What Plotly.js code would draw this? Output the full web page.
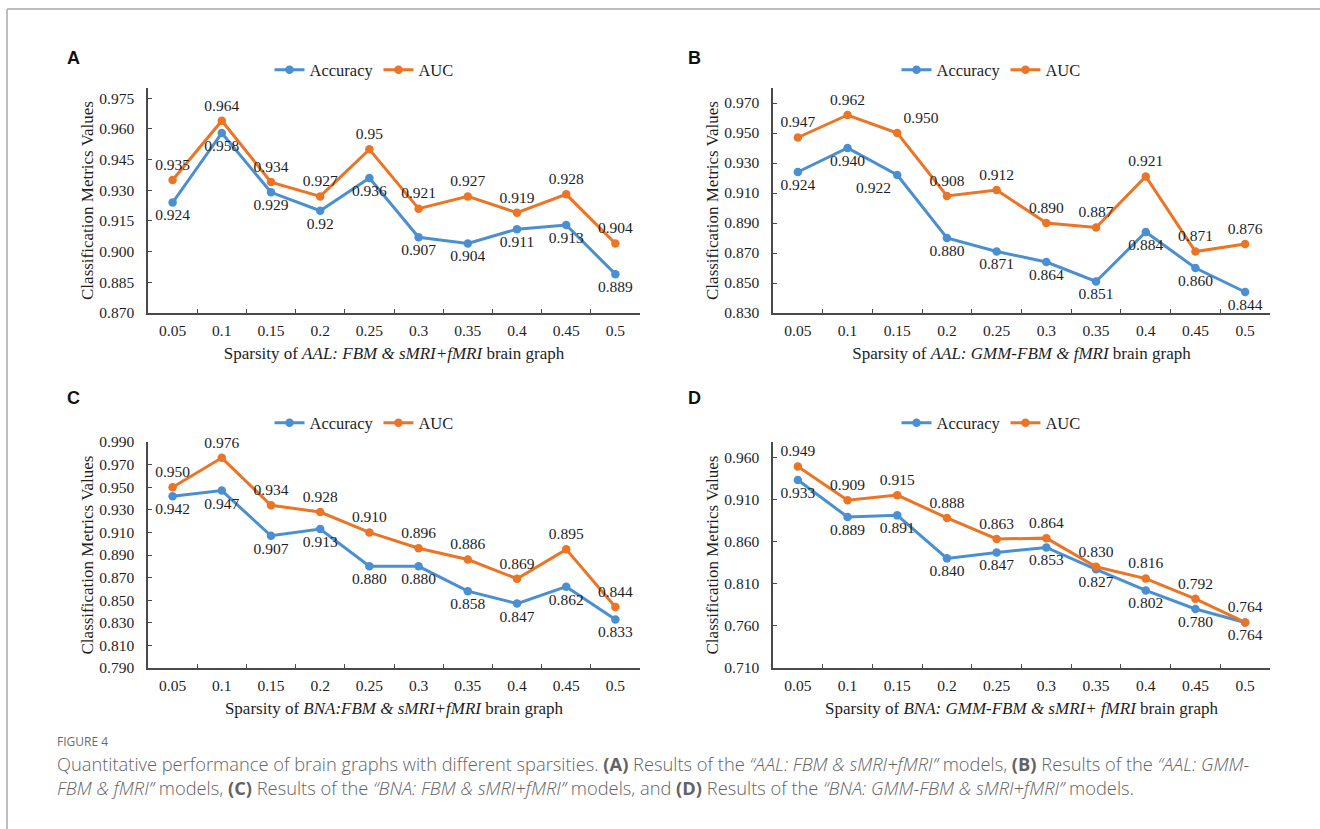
<!DOCTYPE html>
<html>
<head>
<meta charset="utf-8">
<script src="https://cdn.plot.ly/plotly-3.0.1.min.js"></script>
<style>
  html, body { margin: 0; padding: 0; background: #ffffff; }
  #chart { width: 1320px; height: 829px; }
</style>
</head>
<body>
<div id="chart"></div>
<script>
// ---------------- data ----------------
const sparsity = ['0.05', '0.1', '0.15', '0.2', '0.25', '0.3', '0.35', '0.4', '0.45', '0.5'];

const accuracyA = [0.924, 0.958, 0.929, 0.92, 0.936, 0.907, 0.904, 0.911, 0.913, 0.889];
const aucA      = [0.935, 0.964, 0.934, 0.927, 0.95, 0.921, 0.927, 0.919, 0.928, 0.904];

const accuracyB = [0.924, 0.940, 0.922, 0.880, 0.871, 0.864, 0.851, 0.884, 0.860, 0.844];
const aucB      = [0.947, 0.962, 0.950, 0.908, 0.912, 0.890, 0.887, 0.921, 0.871, 0.876];

const accuracyC = [0.942, 0.947, 0.907, 0.913, 0.880, 0.880, 0.858, 0.847, 0.862, 0.833];
const aucC      = [0.950, 0.976, 0.934, 0.928, 0.910, 0.896, 0.886, 0.869, 0.895, 0.844];

const accuracyD = [0.933, 0.889, 0.891, 0.840, 0.847, 0.853, 0.827, 0.802, 0.780, 0.764];
const aucD      = [0.949, 0.909, 0.915, 0.888, 0.863, 0.864, 0.830, 0.816, 0.792, 0.764];

const seriesNames = ['Accuracy', 'AUC'];
const panelLetters = ['A', 'B', 'C', 'D'];
const xTitles = [
  'Sparsity of <i>AAL: FBM &amp; sMRI+fMRI</i> brain graph',
  'Sparsity of <i>AAL: GMM-FBM &amp; fMRI</i> brain graph',
  'Sparsity of <i>BNA:FBM &amp; sMRI+fMRI</i> brain graph',
  'Sparsity of <i>BNA: GMM-FBM &amp; sMRI+ fMRI</i> brain graph'
];
const yTitle = 'Classification Metrics Values';
const captionHead = 'FIGURE 4';
const captionLine1 = 'Quantitative performance of brain graphs with different sparsities. <b>(A)</b> Results of the <i>\u201cAAL: FBM &amp; sMRI+fMRI\u201d</i> models, <b>(B)</b> Results of the <i>\u201cAAL: GMM-</i>';
const captionLine2 = '<i>FBM &amp; fMRI\u201d</i> models, <b>(C)</b> Results of the <i>\u201cBNA: FBM &amp; sMRI+fMRI\u201d</i> models, and <b>(D)</b> Results of the <i>\u201cBNA: GMM-FBM &amp; sMRI+fMRI\u201d</i> models.';

// ---------------- styling ----------------
const BLUE = '#4A8FD2';
const ORANGE = '#EB7425';
const SERIF = '"Liberation Serif", "Times New Roman", Times, serif';
const SANS = '"Open Sans", "Noto Sans", sans-serif';
const AXIS = '#4a4a4a';
const INK = '#1e1e1e';

const panels = [
  { acc: accuracyA, auc: aucA, fmt: v => String(v), range: [0.870, 0.980], tick0: 0.870, dtick: 0.015,
    accPos: Array(10).fill('bottom center'),
    aucPos: Array(10).fill('top center') },
  { acc: accuracyB, auc: aucB, fmt: v => v.toFixed(3), range: [0.830, 0.980], tick0: 0.830, dtick: 0.02,
    accPos: ['bottom center','bottom center','bottom left','bottom center','bottom center','bottom center','bottom center','bottom center','bottom center','bottom center'],
    aucPos: ['top center','top center','top right','top center','top center','top center','top center','top center','top center','top center'] },
  { acc: accuracyC, auc: aucC, fmt: v => v.toFixed(3), range: [0.790, 0.990], tick0: 0.790, dtick: 0.02,
    accPos: Array(10).fill('bottom center'),
    aucPos: Array(10).fill('top center') },
  { acc: accuracyD, auc: aucD, fmt: v => v.toFixed(3), range: [0.710, 0.978], tick0: 0.710, dtick: 0.05,
    accPos: Array(10).fill('bottom center'),
    aucPos: Array(10).fill('top center') }
];

const W = 1320, H = 829;
const px = x => x / W;
const py = y => 1 - y / H;

const xDomains = [[px(148), px(640)], [px(773), px(1270)], [px(148), px(640)], [px(773), px(1270)]];
const yDomains = [[py(313), py(88)], [py(313), py(88)], [py(668), py(442)], [py(668), py(442)]];
const legendPos = [[px(364), py(70)], [px(991), py(70)], [px(364), py(423)], [px(991), py(423)]];
const letterPos = [[px(73), py(58)], [px(694), py(58)], [px(73), py(398)], [px(694), py(398)]];

const traces = [];
const layout = {
  width: W, height: H,
  margin: { l: 0, r: 0, t: 0, b: 0 },
  paper_bgcolor: '#ffffff',
  plot_bgcolor: '#ffffff',
  font: { family: SERIF, size: 15, color: INK },
  annotations: [],
  shapes: [
    { type: 'line', xref: 'paper', yref: 'paper', x0: px(7), x1: 1, y0: py(9), y1: py(9), line: { color: '#bdbdbd', width: 2 } },
    { type: 'line', xref: 'paper', yref: 'paper', x0: px(7), x1: px(7), y0: py(9), y1: 0, line: { color: '#bdbdbd', width: 2 } }
  ]
};

panels.forEach((p, i) => {
  const n = i === 0 ? '' : String(i + 1);
  const xa = 'x' + n, ya = 'y' + n, lg = 'legend' + n;
  const series = [p.acc, p.auc];
  const colors = [BLUE, ORANGE];
  const positions = [p.accPos, p.aucPos];
  series.forEach((vals, k) => {
    traces.push({
      type: 'scatter', mode: 'lines+markers+text',
      x: sparsity, y: vals,
      name: seriesNames[k],
      text: vals.map(p.fmt),
      textposition: positions[k],
      textfont: { family: SERIF, size: 15.5, color: INK },
      line: { color: colors[k], width: 3 },
      marker: { color: colors[k], size: 8.5 },
      cliponaxis: false,
      xaxis: xa, yaxis: ya,
      legend: lg,
      hoverinfo: 'x+y'
    });
  });

  layout['xaxis' + n] = {
    domain: xDomains[i], anchor: ya,
    type: 'category', range: [-0.5, 9.5],
    showline: true, linecolor: AXIS, linewidth: 1.5,
    ticks: 'inside', tickson: 'boundaries', ticklen: 4, tickcolor: AXIS, tickwidth: 1,
    ticklabelstandoff: 3,
    showgrid: false, zeroline: false,
    tickfont: { family: SERIF, size: 15.5, color: INK },
    title: { text: xTitles[i], font: { family: SERIF, size: 17, color: INK }, standoff: 9 },
    fixedrange: true
  };
  layout['yaxis' + n] = {
    domain: yDomains[i], anchor: xa,
    range: p.range, tick0: p.tick0, dtick: p.dtick, tickformat: '.3f',
    showline: true, linecolor: AXIS, linewidth: 1.5,
    ticks: 'inside', ticklen: 4, tickcolor: AXIS, tickwidth: 1,
    ticklabelstandoff: 9,
    showgrid: false, zeroline: false,
    tickfont: { family: SERIF, size: 15.5, color: INK },
    title: { text: yTitle, font: { family: SERIF, size: 17, color: INK }, standoff: 1 },
    fixedrange: true
  };
  layout[lg] = {
    orientation: 'h', x: legendPos[i][0], y: legendPos[i][1],
    xanchor: 'center', yanchor: 'middle',
    font: { family: SERIF, size: 16.5, color: INK },
    bgcolor: 'rgba(0,0,0,0)', itemwidth: 30, tracegroupgap: 0,
    itemclick: false, itemdoubleclick: false
  };
  layout.annotations.push({
    xref: 'paper', yref: 'paper', x: letterPos[i][0], y: letterPos[i][1],
    xanchor: 'center', yanchor: 'middle', showarrow: false,
    text: '<b>' + panelLetters[i] + '</b>',
    font: { family: '"Liberation Sans", Arial, sans-serif', size: 18, color: '#111111' }
  });
});

layout.annotations.push(
  { xref: 'paper', yref: 'paper', x: px(55), y: py(741), xanchor: 'left', yanchor: 'middle', showarrow: false,
    text: captionHead, font: { family: SANS, size: 12, color: '#6b6b6b' } },
  { xref: 'paper', yref: 'paper', x: px(55), y: py(775.5), xanchor: 'left', yanchor: 'middle', showarrow: false, align: 'left',
    text: captionLine1 + '<br>' + captionLine2, font: { family: SANS, size: 18.3, color: '#636363', weight: 300 } }
);

Plotly.newPlot('chart', traces, layout, { displayModeBar: false, staticPlot: false });
</script>
</body>
</html>
